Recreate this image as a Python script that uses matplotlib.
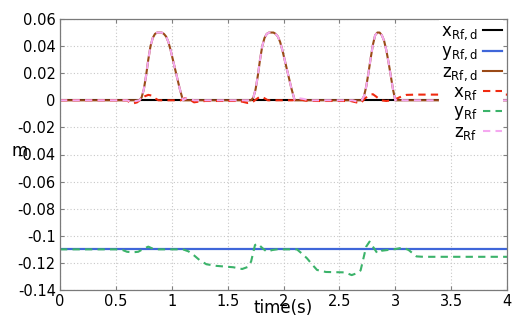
import matplotlib

matplotlib.use("Agg")
import matplotlib.pyplot as plt

plt.rcParams["font.family"] = "DejaVu Sans"
plt.rcParams["mathtext.default"] = "regular"

# desired foot trajectory (solid) and measured foot trajectory (dashed), metres
t_xd = [0.0, 4.0]
x_d = [0.0, 0.0]

t_yd = [0.0, 4.0]
y_d = [-0.11, -0.11]

t_zd = [0.0, 0.71, 0.73, 0.75, 0.77, 0.79, 0.81, 0.83, 0.85, 0.87, 0.89, 0.91,
        0.93, 0.95, 0.97, 0.99, 1.01, 1.03, 1.05, 1.07, 1.09, 1.10,
        1.71, 1.73, 1.75, 1.77, 1.79, 1.81, 1.83, 1.85, 1.87, 1.89, 1.91,
        1.93, 1.95, 1.97, 1.99, 2.01, 2.03, 2.05, 2.07, 2.09, 2.10,
        2.70, 2.72, 2.74, 2.76, 2.78, 2.80, 2.82, 2.84, 2.86, 2.88, 2.90,
        2.92, 2.94, 2.96, 2.98, 3.00, 4.0]
z_d = [0.0, 0.0, 0.002, 0.008, 0.018, 0.030, 0.040, 0.046, 0.049, 0.050, 0.050, 0.050,
       0.049, 0.047, 0.043, 0.037, 0.030, 0.023, 0.016, 0.009, 0.003, 0.0,
       0.0, 0.002, 0.008, 0.018, 0.030, 0.040, 0.046, 0.049, 0.050, 0.050, 0.050,
       0.049, 0.047, 0.043, 0.037, 0.030, 0.023, 0.016, 0.009, 0.003, 0.0,
       0.0, 0.003, 0.010, 0.020, 0.031, 0.041, 0.048, 0.050, 0.050, 0.048, 0.044,
       0.037, 0.028, 0.018, 0.008, 0.0, 0.0]

t_x = [0.0, 0.60, 0.63, 0.66, 0.69, 0.72, 0.76, 0.79, 0.82, 0.85, 0.88, 1.08,
       1.12, 1.16, 1.20, 1.24, 1.30, 1.58, 1.63, 1.68, 1.72, 1.76, 1.79, 1.82,
       1.86, 2.08, 2.14, 2.20, 2.30, 2.60, 2.65, 2.69, 2.73, 2.77, 2.80, 2.83,
       2.87, 2.92, 2.97, 3.02, 3.06, 3.10, 3.20, 4.0]
x_m = [0.0, 0.0, -0.002, -0.0022, -0.0015, 0.0005, 0.003, 0.004, 0.0035, 0.0015, 0.0, 0.0,
       0.0015, 0.0005, -0.0015, -0.001, -0.0005, -0.0005, -0.001, -0.002, -0.0015, 0.001, 0.0027, 0.002,
       0.0, 0.0, 0.0008, -0.0003, -0.0005, -0.0005, -0.0015, -0.0022, 0.0015, 0.004, 0.0045, 0.0027,
       0.0, -0.0005, 0.0, 0.0015, 0.003, 0.004, 0.0042, 0.0042]

t_y = [0.0, 0.50, 0.56, 0.60, 0.65, 0.70, 0.75, 0.79, 0.83, 0.87, 1.10, 1.15,
       1.20, 1.25, 1.31, 1.40, 1.55, 1.63, 1.68, 1.71, 1.745, 1.77, 1.81, 1.85,
       1.90, 1.94, 2.12, 2.17, 2.21, 2.26, 2.30, 2.38, 2.55, 2.61, 2.66, 2.69,
       2.72, 2.74, 2.77, 2.80, 2.84, 2.88, 2.93, 3.00, 3.07, 3.12, 3.19, 3.25, 4.0]
y_m = [-0.11, -0.11, -0.1105, -0.1118, -0.1122, -0.1118, -0.1095, -0.108, -0.1095, -0.11, -0.11, -0.1115,
       -0.1145, -0.118, -0.121, -0.1222, -0.1232, -0.1245, -0.123, -0.119, -0.1068, -0.1058, -0.109, -0.1117,
       -0.1105, -0.11, -0.11, -0.1135, -0.1166, -0.1215, -0.1252, -0.1267, -0.127, -0.129, -0.1275, -0.1255,
       -0.115, -0.108, -0.1043, -0.108, -0.1129, -0.111, -0.1105, -0.1098, -0.1087, -0.1105, -0.1152, -0.1155, -0.1155]

t_z = [0.0, 0.60, 0.63, 0.66, 0.71, 0.73, 0.75, 0.77, 0.79, 0.81, 0.83, 0.85, 0.87, 0.89, 0.91,
       0.93, 0.95, 0.97, 0.99, 1.01, 1.03, 1.05, 1.07, 1.09, 1.10, 1.13, 1.16, 1.20,
       1.71, 1.73, 1.75, 1.77, 1.79, 1.81, 1.83, 1.85, 1.87, 1.89, 1.91,
       1.93, 1.95, 1.97, 1.99, 2.01, 2.03, 2.05, 2.07, 2.09, 2.10, 2.14, 2.18, 2.22,
       2.62, 2.66, 2.70, 2.72, 2.74, 2.76, 2.78, 2.80, 2.82, 2.84, 2.86, 2.88, 2.90,
       2.92, 2.94, 2.96, 2.98, 3.00, 3.03, 3.07, 4.0]
z_m = [0.0, 0.0, -0.001, -0.0008, 0.0, 0.002, 0.008, 0.018, 0.030, 0.040, 0.046, 0.049, 0.050, 0.050, 0.050,
       0.049, 0.047, 0.043, 0.037, 0.030, 0.023, 0.016, 0.009, 0.003, 0.0, 0.0015, 0.001, 0.0,
       0.0, 0.002, 0.008, 0.018, 0.030, 0.040, 0.046, 0.049, 0.050, 0.050, 0.050,
       0.049, 0.047, 0.043, 0.037, 0.030, 0.023, 0.016, 0.009, 0.003, 0.0, 0.0015, 0.001, 0.0,
       0.0, -0.001, 0.0, 0.003, 0.010, 0.020, 0.031, 0.041, 0.048, 0.050, 0.050, 0.048, 0.044,
       0.037, 0.028, 0.018, 0.008, 0.0, 0.0015, 0.0, 0.0]

x_ticks = [0, 0.5, 1, 1.5, 2, 2.5, 3, 3.5, 4]
x_tick_labels = ["0", "0.5", "1", "1.5", "2", "2.5", "3", "3.5", "4"]
y_ticks = [-0.14, -0.12, -0.1, -0.08, -0.06, -0.04, -0.02, 0, 0.02, 0.04, 0.06]
y_tick_labels = ["-0.14", "-0.12", "-0.1", "-0.08", "-0.06", "-0.04", "-0.02", "0",
                 "0.02", "0.04", "0.06"]

fig = plt.figure(figsize=(5.15, 3.2), dpi=100)
ax = fig.add_axes([60 / 515, 30 / 320, 447 / 515, 271 / 320])

dash = (0, (3.5, 2.5))
ax.plot(t_xd, x_d, color="black", lw=1.5, label=r"x$_{Rf,d}$")
ax.plot(t_yd, y_d, color="#3f66d9", lw=1.6, label=r"y$_{Rf,d}$")
ax.plot(t_zd, z_d, color="#9a4a17", lw=1.5, label=r"z$_{Rf,d}$")
ax.plot(t_x, x_m, color="#f02a10", lw=1.5, ls=dash, label=r"x$_{Rf}$")
ax.plot(t_y, y_m, color="#3bb36a", lw=1.5, ls=dash, label=r"y$_{Rf}$")
ax.plot(t_z, z_m, color="#f5a8f0", lw=1.5, ls=dash, label=r"z$_{Rf}$")

ax.set_xlim(0, 4)
ax.set_ylim(-0.14, 0.06)
ax.set_xticks(x_ticks, x_tick_labels)
ax.set_yticks(y_ticks, y_tick_labels)
ax.tick_params(direction="in", top=True, right=True, length=3, width=0.8,
               color="#808080", labelsize=10.5, pad=3)
ax.grid(True, color="#c8c8c8", ls=(0, (1, 2)), lw=0.8)
for s in ax.spines.values():
    s.set_color("#7a7a7a")
    s.set_linewidth(0.9)

ax.set_xlabel("time(s)", fontsize=12)
ax.xaxis.set_label_coords(0.5, -0.035)
ax.set_ylabel("m", fontsize=12, rotation=0)
ax.yaxis.set_label_coords(-0.09, 0.48)

leg = ax.legend(loc="upper right", bbox_to_anchor=(0.992, 0.995), borderaxespad=0,
                markerfirst=False, frameon=True, fancybox=False, framealpha=1,
                facecolor="white", edgecolor="none", fontsize=12,
                handlelength=1.15, handletextpad=0.3, labelspacing=0.02,
                borderpad=0.1)

fig.savefig("out.png", dpi=100)
